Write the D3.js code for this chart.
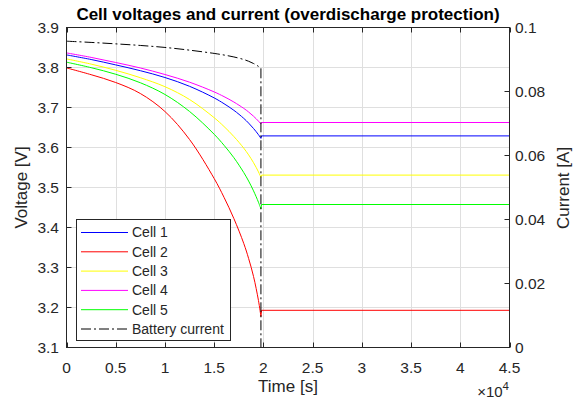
<!DOCTYPE html>
<html>
<head>
<meta charset="utf-8">
<script src="https://cdn.jsdelivr.net/npm/d3@7"></script>
<style>
  body { margin: 0; background: #fff; }
  svg { font-family: "Liberation Sans", Arial, sans-serif; }
</style>
</head>
<body>
<svg width="581" height="405"></svg>
<script>
// time samples [s] of the discharge part
const times = [0, 2500, 5000, 7500, 10000, 12500, 15000, 16000, 17000, 18000, 18500, 19000, 19500, 19750];
const cutTime = 19750;   // protection switches off here
const endTime = 45000;

// cell voltages [V] at the times above
const cell1 = [3.8315, 3.8200, 3.8065, 3.7920, 3.7750, 3.7530, 3.7240, 3.7095, 3.6930, 3.6730, 3.6610, 3.6475, 3.6320, 3.6228];
const cell2 = [3.7990, 3.7820, 3.7625, 3.7350, 3.6900, 3.6200, 3.5225, 3.4755, 3.4225, 3.3605, 3.3225, 3.2775, 3.2175, 3.1775];
const cell3 = [3.8215, 3.8085, 3.7930, 3.7745, 3.7520, 3.7200, 3.6745, 3.6525, 3.6275, 3.5985, 3.5815, 3.5620, 3.5390, 3.5253];
const cell4 = [3.8365, 3.8253, 3.8125, 3.7988, 3.7825, 3.7633, 3.7390, 3.7272, 3.7137, 3.6979, 3.6887, 3.6782, 3.6659, 3.6587];
const cell5 = [3.8133, 3.7996, 3.7831, 3.7619, 3.7326, 3.6901, 3.6331, 3.6056, 3.5746, 3.5376, 3.5161, 3.4916, 3.4631, 3.4466];
// relaxed voltage after the cut
const restV = [3.629, 3.193, 3.531, 3.6625, 3.4575];

// battery current [A]
const current = [0.09572, 0.09534, 0.09489, 0.09439, 0.09377, 0.09292, 0.09190, 0.09140, 0.09080, 0.09000, 0.08945, 0.08875, 0.08785, 0.08725];

const cellNames = ["Cell 1", "Cell 2", "Cell 3", "Cell 4", "Cell 5"];
const cellColors = ["#0000ff", "#ff0000", "#ffff00", "#ff00ff", "#00ff00"];
const cellData = [cell1, cell2, cell3, cell4, cell5];

const xTicks = [0, 5000, 10000, 15000, 20000, 25000, 30000, 35000, 40000, 45000];
const vTicks = [3.1, 3.2, 3.3, 3.4, 3.5, 3.6, 3.7, 3.8, 3.9];
const iTicks = [0, 0.02, 0.04, 0.06, 0.08, 0.1];

const svg = d3.select("svg");
const axisColor = "#262626";

const x = d3.scaleLinear().domain([0, endTime]).range([66.5, 509.5]);
const yV = d3.scaleLinear().domain([3.1, 3.9]).range([347.5, 27.5]);
const yI = d3.scaleLinear().domain([0, 0.1]).range([347.5, 27.5]);

// grid
const grid = svg.append("g").attr("stroke", "#dfdfdf").attr("stroke-width", 1);
grid.selectAll(".gx").data(xTicks.slice(1, -1)).join("line")
    .attr("x1", d => Math.round(x(d)) + 0.5).attr("x2", d => Math.round(x(d)) + 0.5)
    .attr("y1", yV(3.9)).attr("y2", yV(3.1));
grid.selectAll(".gy").data(vTicks.slice(1, -1)).join("line")
    .attr("y1", d => Math.round(yV(d) - 0.5) + 0.5).attr("y2", d => Math.round(yV(d) - 0.5) + 0.5)
    .attr("x1", x(0)).attr("x2", x(endTime));

// build one series: discharge curve, jump at the cut, then flat
function cellSeries(vals, rest) {
    const pts = times.map((t, i) => [t, vals[i]]);
    return { curve: pts, flat: [[cutTime, vals[vals.length - 1]], [cutTime + 60, rest], [endTime, rest]] };
}

const lineV = d3.line().x(d => x(d[0])).y(d => yV(d[1]));
const plot = svg.append("g").attr("fill", "none").attr("stroke-width", 1);

cellData.forEach((vals, i) => {
    const s = cellSeries(vals, restV[i]);
    plot.append("path")
        .attr("d", lineV.curve(d3.curveCatmullRom)(s.curve))
        .attr("stroke", cellColors[i]);
    plot.append("path")
        .attr("d", lineV.curve(d3.curveLinear)(s.flat))
        .attr("stroke", cellColors[i]);
});

// battery current on the right axis
const lineI = d3.line().x(d => x(d[0])).y(d => yI(d[1]));
const curPts = times.map((t, i) => [t, current[i]]);
plot.append("path")
    .attr("d", lineI.curve(d3.curveCatmullRom)(curPts))
    .attr("stroke", "#000").attr("stroke-dasharray", "10,3,2,3");
plot.append("path")
    .attr("d", lineI.curve(d3.curveLinear)([[cutTime, current[current.length - 1]], [cutTime, 0], [endTime, 0]]))
    .attr("stroke", "#000").attr("stroke-dasharray", "10,3,2,3");

// axes (MATLAB style, ticks inside, box on)
const tickLen = 5;
const fs = "15.5px";
const ax = svg.append("g");
ax.append("rect")
    .attr("x", x(0)).attr("y", yV(3.9))
    .attr("width", x(endTime) - x(0)).attr("height", yV(3.1) - yV(3.9))
    .attr("fill", "none").attr("stroke", axisColor);

ax.selectAll(".xt").data(xTicks).join("path")
    .attr("d", d => {
        const px = Math.round(x(d)) + 0.5;
        return `M${px},${yV(3.1)}v${-tickLen}M${px},${yV(3.9)}v${tickLen}`;
    })
    .attr("stroke", axisColor);
ax.selectAll(".xl").data(xTicks).join("text")
    .attr("x", d => x(d)).attr("y", 373)
    .attr("text-anchor", "middle").attr("font-size", fs).attr("fill", axisColor)
    .text(d => d3.format("")(d / 1e4));

ax.selectAll(".vt").data(vTicks).join("path")
    .attr("d", d => `M${x(0)},${Math.round(yV(d) - 0.5) + 0.5}h${tickLen}`)
    .attr("stroke", axisColor);
ax.selectAll(".vl").data(vTicks).join("text")
    .attr("x", 59).attr("y", d => yV(d)).attr("dy", "0.35em")
    .attr("text-anchor", "end").attr("font-size", fs).attr("fill", axisColor)
    .text(d => d3.format(".1f")(d));

ax.selectAll(".it").data(iTicks).join("path")
    .attr("d", d => `M${x(endTime)},${Math.round(yI(d) - 0.5) + 0.5}h${-tickLen}`)
    .attr("stroke", axisColor);
ax.selectAll(".il").data(iTicks).join("text")
    .attr("x", 515).attr("y", d => yI(d)).attr("dy", "0.35em")
    .attr("font-size", fs).attr("fill", axisColor)
    .text(d => d3.format("")(+d.toFixed(2)));

// exponent under the x axis
const expo = ax.append("text")
    .attr("x", 509).attr("y", 397).attr("text-anchor", "end")
    .attr("fill", axisColor);
expo.append("tspan").attr("font-size", "15px").text("\u00d710");
expo.append("tspan").attr("font-size", "11.5px").attr("dy", "-7").text("4");

// labels and title
svg.append("text").attr("x", 288).attr("y", 392).attr("text-anchor", "middle")
    .attr("font-size", "17px").attr("fill", axisColor).text("Time [s]");
svg.append("text").attr("transform", "translate(27,187.5) rotate(-90)").attr("text-anchor", "middle")
    .attr("font-size", "17px").attr("fill", axisColor).text("Voltage [V]");
svg.append("text").attr("transform", "translate(569,188) rotate(-90)").attr("text-anchor", "middle")
    .attr("font-size", "17px").attr("fill", axisColor).text("Current [A]");
svg.append("text").attr("x", 288).attr("y", 20).attr("text-anchor", "middle")
    .attr("font-size", "17px").attr("font-weight", "bold").attr("fill", "#000")
    .text("Cell voltages and current (overdischarge protection)");

// legend
const legend = svg.append("g").attr("transform", "translate(76.5,219.5)");
legend.append("rect").attr("width", 154).attr("height", 121)
    .attr("fill", "#fff").attr("stroke", axisColor);
const legItems = cellNames.map((n, i) => ({ name: n, color: cellColors[i], dash: null }))
    .concat([{ name: "Battery current", color: "#000", dash: "10,3,2,3" }]);
const row = legend.selectAll(".row").data(legItems).join("g")
    .attr("transform", (d, i) => `translate(0,${13 + i * 19.3})`);
row.append("line").attr("x1", 4.5).attr("x2", 51.5)
    .attr("stroke", d => d.color).attr("stroke-dasharray", d => d.dash);
row.append("text").attr("x", 55.5).attr("dy", "0.35em")
    .attr("font-size", "14px").attr("fill", axisColor).text(d => d.name);
</script>
</body>
</html>
